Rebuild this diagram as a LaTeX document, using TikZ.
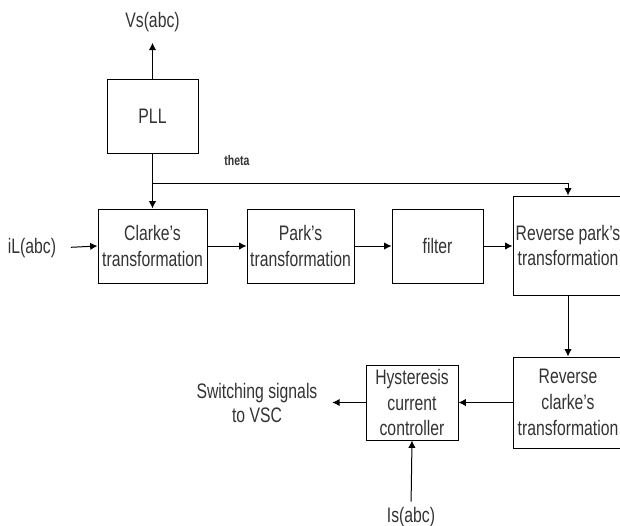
\documentclass[tikz,border=0pt]{standalone}
\usepackage{fontspec}
\setmainfont{Liberation Sans}[FakeStretch=0.75]
\usetikzlibrary{arrows.meta}
\begin{document}
\begin{tikzpicture}[x=0.75pt, y=-0.75pt,
    block/.style={draw, line width=0.75pt, text=black!80, align=center, inner sep=0pt,
        font=\fontsize{15.75}{19.3}\selectfont},
    lbl/.style={text=black!80, align=center, inner sep=0pt, font=\fontsize{15.75}{17.3}\selectfont},
    conn/.style={line width=0.75pt, -{Latex[length=5.5pt, width=5.5pt]}}]
            \useasboundingbox (0, 0) rectangle (620, 525);
            \clip (0, 0) rectangle (620, 525);
            \draw (152.5, 116)node(pll)[block, minimum width=68.25pt, minimum height=55.5pt]{PLL};
            \draw (152.5, 246)node(clarke)[block, minimum width=81.75pt, minimum height=55.5pt]{Clarke’s\\transformation};
            \draw (300.5, 246)node(park)[block, minimum width=80.25pt, minimum height=55.5pt]{Park’s\\transformation};
            \draw (437.5, 246)node(filter)[block, minimum width=68.25pt, minimum height=55.5pt]{filter};
            \draw (568, 245.5)node(rpark)[block, minimum width=82.5pt, minimum height=74.25pt]{Reverse park’s\\transformation};
            \draw (568, 402.5)node(rclarke)[block, minimum width=82.5pt, minimum height=68.25pt]{Reverse\\clarke’s\\transformation};
            \draw (412, 402.5)node(hyst)[block, minimum width=69pt, minimum height=56.25pt]{Hysteresis\\current\\controller};
            \draw (152.5, 22)node(vs)[lbl]{Vs(abc)};
            \draw (237, 160)node(theta)[lbl, font=\bfseries\fontsize{10.5}{12}\selectfont]{theta};
            \draw (32, 248)node(il)[lbl]{iL(abc)};
            \draw (257, 403)node(sw)[lbl]{Switching signals\\to VSC};
            \draw (411, 517)node(is)[lbl]{Is(abc)};
            \coordinate (tap) at (152.5, 183);
            \draw (pll.north)--(vs.south)[conn, shorten >=8pt];
            \draw (pll.south)--(clarke.north)[conn];
            \draw (tap)-|(rpark.north)[conn];
            \draw (il.east)--(clarke.west)[conn, shorten <=11pt];
            \draw (clarke.east)--(park.west)[conn];
            \draw (park.east)--(filter.west)[conn];
            \draw (filter.east)--(rpark.west |- filter.east)[conn];
            \draw (rpark.south)--(rclarke.north)[conn];
            \draw (rclarke.west)--(hyst.east)[conn];
            \draw (hyst.west)--(sw.east |- hyst.west)[conn, shorten >=11pt];
            \draw (is.north)--(hyst.south)[conn, shorten <=4pt];
        \end{tikzpicture}
\end{document}
